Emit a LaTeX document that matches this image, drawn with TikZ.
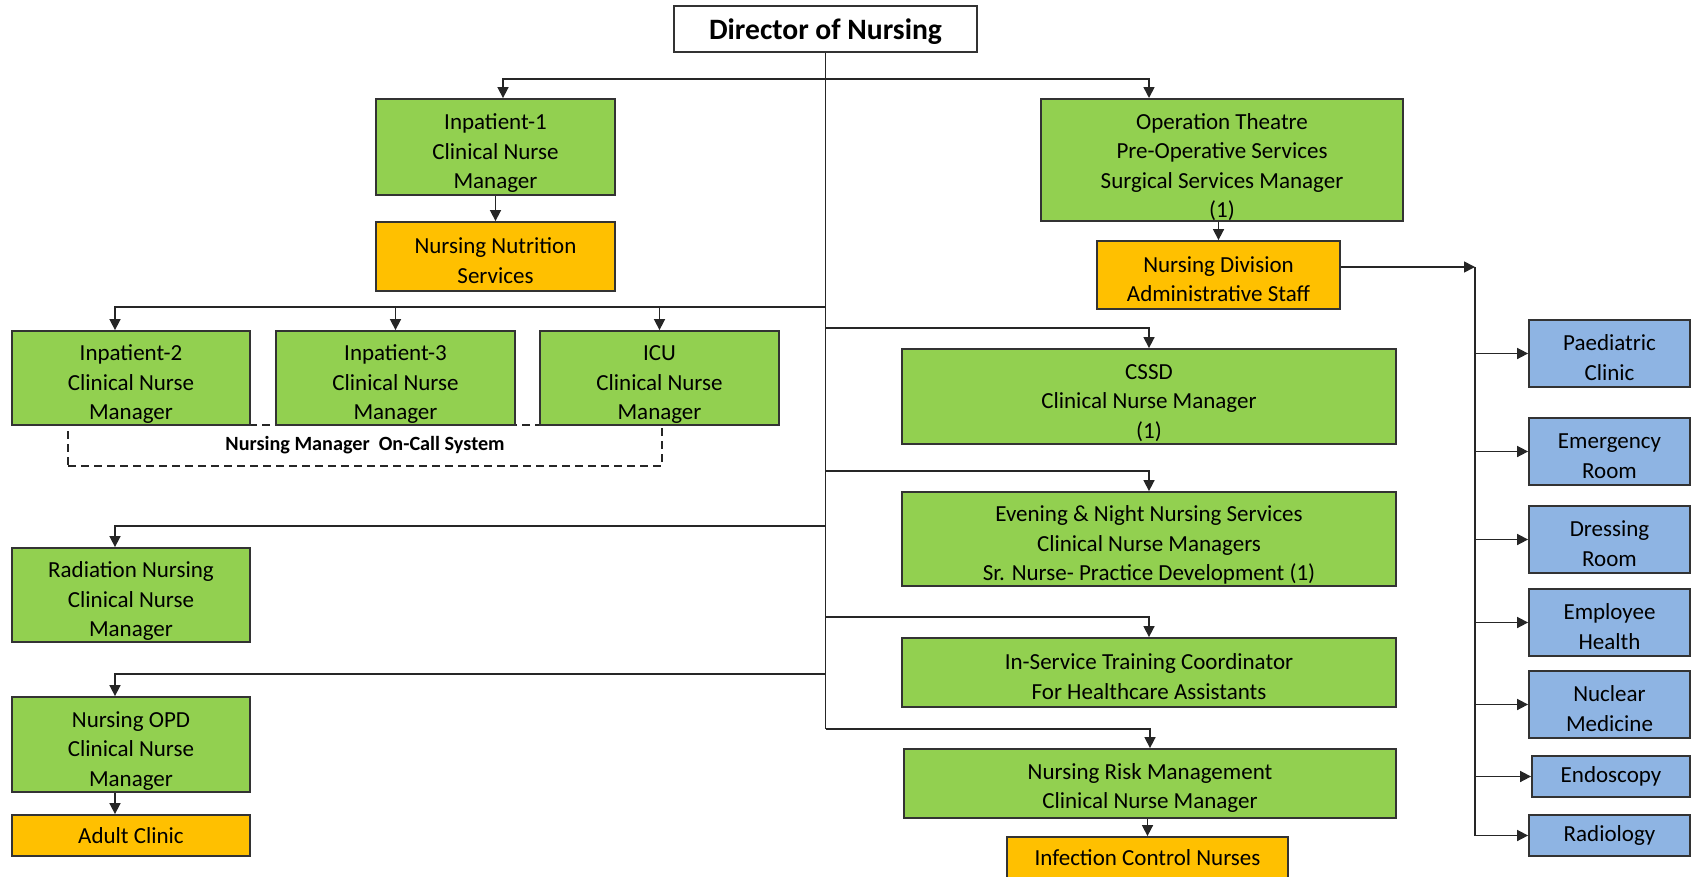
\documentclass[tikz,border=0pt]{standalone}
\usepackage{fontspec}
\setmainfont{Carlito}
\usepackage{tikz}
\usetikzlibrary{arrows.meta,calc,positioning}
\definecolor{grn}{HTML}{92D050}
\definecolor{org}{HTML}{FFC000}
\definecolor{blu}{HTML}{8EB4E3}
\tikzset{
  box/.style={draw=black!80, line width=0.9pt, align=center, inner sep=0pt, font=\fontsize{11.5}{14.75}\selectfont},
  dropt/.style={execute at begin node={\rule{0pt}{#1}}},
  ln2/.style={dropt=27pt},
  ln3/.style={dropt=43.5pt},
  ln4/.style={dropt=59.5pt},
  gbox/.style={box, fill=grn},
  obox/.style={box, fill=org},
  blbox/.style={box, fill=blu, minimum width=80.5pt, minimum height=33.5pt},
  line/.style={draw=black!85, line width=0.8pt},
  arr/.style={line, -{Triangle[length=5.5pt,width=5.5pt]}}
}
\begin{document}
\begin{tikzpicture}[x=0.5pt,y=-0.5pt]
\useasboundingbox (0,0) rectangle (1691,877);
\node[draw=black!85, line width=0.8pt, dash pattern=on 4pt off 2.5pt, minimum width=297pt, minimum height=20.5pt, font=\fontsize{10.1}{11}\selectfont\bfseries] (oncall) at (365,445.5) {Nursing Manager\ \ On-Call System};
\node[box, fill=white, minimum width=151.5pt, minimum height=23pt, font=\fontsize{14.8}{17}\selectfont\bfseries, dropt=13.5pt] (dir) at (825.5,29) {Director of Nursing};
\node[gbox, ln3, minimum width=119.5pt, minimum height=48pt] (ip1) at (495.5,147) {Inpatient-1\\Clinical Nurse\\Manager};
\node[obox, ln2, minimum width=119.5pt, minimum height=34.5pt] (nut) at (495.5,256.5) {Nursing Nutrition\\Services};
\node[gbox, ln3, minimum width=119pt, minimum height=47pt] (ip2) at (131,378) {Inpatient-2\\Clinical Nurse\\Manager};
\node[gbox, ln3, minimum width=119.5pt, minimum height=47pt] (ip3) at (395.5,378) {Inpatient-3\\Clinical Nurse\\Manager};
\node[gbox, ln3, minimum width=119.5pt, minimum height=47pt] (icu) at (659.5,378) {ICU\\Clinical Nurse\\Manager};
\node[gbox, ln3, minimum width=119pt, minimum height=47pt] (rad) at (131,595) {Radiation Nursing\\Clinical Nurse\\Manager};
\node[gbox, ln3, minimum width=119pt, minimum height=47.5pt] (opd) at (131,744.5) {Nursing OPD\\Clinical Nurse\\Manager};
\node[obox, minimum width=119pt, minimum height=20.5pt] (adu) at (131,835.5) {Adult Clinic};
\node[gbox, ln4, minimum width=181pt, minimum height=61pt] (ot) at (1222,160) {Operation Theatre\\Pre-Operative Services\\Surgical Services Manager\\(1)};
\node[obox, ln2, minimum width=121.5pt, minimum height=34pt] (adm) at (1218.5,275) {Nursing Division\\Administrative Staff};
\node[gbox, ln3, minimum width=247pt, minimum height=47.5pt] (cssd) at (1149,396.5) {CSSD\\Clinical Nurse Manager\\(1)};
\node[gbox, ln3, minimum width=247pt, minimum height=47pt] (eve) at (1149,539) {Evening \& Night Nursing Services\\Clinical Nurse Managers\\Sr. Nurse- Practice Development (1)};
\node[gbox, ln2, minimum width=247pt, minimum height=34.5pt] (ins) at (1149,672.5) {In-Service Training Coordinator\\For Healthcare Assistants};
\node[gbox, ln2, minimum width=246pt, minimum height=34.5pt] (risk) at (1150,783.5) {Nursing Risk Management\\Clinical Nurse Manager};
\node[obox, minimum width=140.5pt, minimum height=21pt] (inf) at (1147.5,858) {Infection Control Nurses};
\node[blbox, ln2] (ped) at (1609.5,353.5) {Paediatric\\Clinic};
\node[blbox, ln2] (eme) at (1609.5,451.5) {Emergency\\Room};
\node[blbox, ln2] (dre) at (1609.5,539.5) {Dressing\\Room};
\node[blbox, ln2] (emp) at (1609.5,622.5) {Employee\\Health};
\node[blbox, ln2] (nuc) at (1609.5,704.5) {Nuclear\\Medicine};
\node[blbox, minimum width=79pt, minimum height=20.5pt] (endo) at (1611,776.5) {Endoscopy};
\node[blbox, minimum height=20.5pt] (radi) at (1609.5,835.5) {Radiology};
\coordinate (lx) at (115,0);
\coordinate (j1) at (825.5,79);
\coordinate (j2) at (825.5,307);
\coordinate (j3) at (825.5,328);
\coordinate (j4) at (825.5,471);
\coordinate (j5) at (825.5,526);
\coordinate (j6) at (825.5,617);
\coordinate (j7) at (825.5,674);
\coordinate (j8) at (825.5,729);
\coordinate (bv) at (1475,267);
\draw[line] (dir.south) -- (j8);
\draw[arr] (j1) -| ($(ip1.north)+(7.5,0)$);
\draw[arr] (j1) -| (ot.north -| cssd.north);
\draw[arr] (ip1.south) -- (nut.north);
\draw[arr] (j2) -| (ip2.north -| lx);
\draw[arr] (j2) -| (ip3.north);
\draw[arr] (j2) -| (icu.north);
\draw[arr] (j3) -| (cssd.north);
\draw[arr] (j4) -| (eve.north);
\draw[arr] (j5) -| (rad.north -| lx);
\draw[arr] (j6) -| (ins.north);
\draw[arr] (j7) -| (opd.north -| lx);
\draw[arr] (j8) -| (risk.north);
\draw[arr] (opd.south -| lx) -- (adu.north -| lx);
\draw[arr] (ot.south -| adm.north) -- (adm.north);
\draw[arr] (risk.south -| inf.north) -- (inf.north);
\draw[arr] ($(adm.east)+(0,-8)$) -- (bv);
\draw[line] (bv) -- (bv |- radi.west);
\foreach \b in {ped,eme,dre,emp,nuc,endo,radi}
  \draw[arr] (bv |- \b.west) -- (\b.west);
\end{tikzpicture}
\end{document}
